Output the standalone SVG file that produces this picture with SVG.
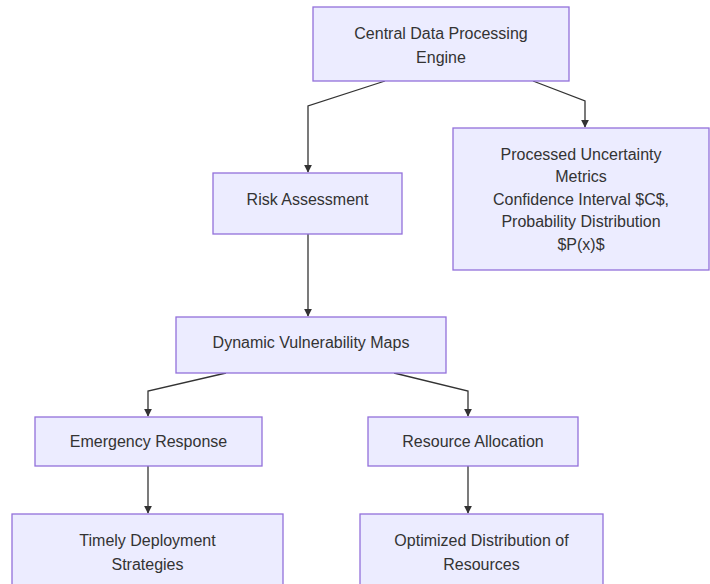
<svg xmlns="http://www.w3.org/2000/svg" width="710" height="584" viewBox="0 0 710 584">
<defs>
<style>
.node rect{fill:#ECECFF;stroke:#9370DB;stroke-width:1.3}
.node text{font-family:"Liberation Sans",Arial,sans-serif;font-size:16px;fill:#333;text-anchor:middle;dominant-baseline:central}
.edges path{fill:none;stroke:#333;stroke-width:1.3}
</style>
<marker id="arr" viewBox="0 0 10 10" refX="9" refY="5" markerWidth="8" markerHeight="8" orient="auto" markerUnits="userSpaceOnUse">
<path d="M0,0 L10,5 L0,10 z" fill="#333"/>
</marker>
</defs>
<rect width="710" height="584" fill="#fff"/>
<g class="edges">
<path d="M385,81 L308,106 L308,172" marker-end="url(#arr)"/>
<path d="M533,81 L585,101 L585,127" marker-end="url(#arr)"/>
<path d="M308,234 L308,316" marker-end="url(#arr)"/>
<path d="M226,373 L148,391 L148,416" marker-end="url(#arr)"/>
<path d="M394,373 L468,391 L468,416" marker-end="url(#arr)"/>
<path d="M148,466 L148,513" marker-end="url(#arr)"/>
<path d="M468,466 L468,513" marker-end="url(#arr)"/>
</g>
<g id="central" class="node">
<rect x="313" y="7" width="256" height="74"/>
<text x="441" y="33">Central Data Processing</text>
<text x="441" y="57">Engine</text>
</g>
<g id="processed" class="node">
<rect x="453" y="128" width="256" height="142"/>
<text x="581" y="154">Processed Uncertainty</text>
<text x="581" y="176.5">Metrics</text>
<text x="581" y="199">Confidence Interval $C$,</text>
<text x="581" y="221.5">Probability Distribution</text>
<text x="581" y="244">$P(x)$</text>
</g>
<g id="risk" class="node">
<rect x="213" y="173" width="189" height="61"/>
<text x="307.5" y="199">Risk Assessment</text>
</g>
<g id="dynamic" class="node">
<rect x="176" y="317" width="270" height="56"/>
<text x="311" y="342">Dynamic Vulnerability Maps</text>
</g>
<g id="emergency" class="node">
<rect x="35" y="417" width="227" height="49"/>
<text x="148.5" y="441">Emergency Response</text>
</g>
<g id="resource" class="node">
<rect x="368" y="417" width="210" height="49"/>
<text x="473" y="441">Resource Allocation</text>
</g>
<g id="timely" class="node">
<rect x="12" y="514" width="271" height="76"/>
<text x="147.5" y="540">Timely Deployment</text>
<text x="147.5" y="564">Strategies</text>
</g>
<g id="optimized" class="node">
<rect x="360" y="514" width="243" height="76"/>
<text x="481.5" y="540">Optimized Distribution of</text>
<text x="481.5" y="564">Resources</text>
</g>
</svg>
